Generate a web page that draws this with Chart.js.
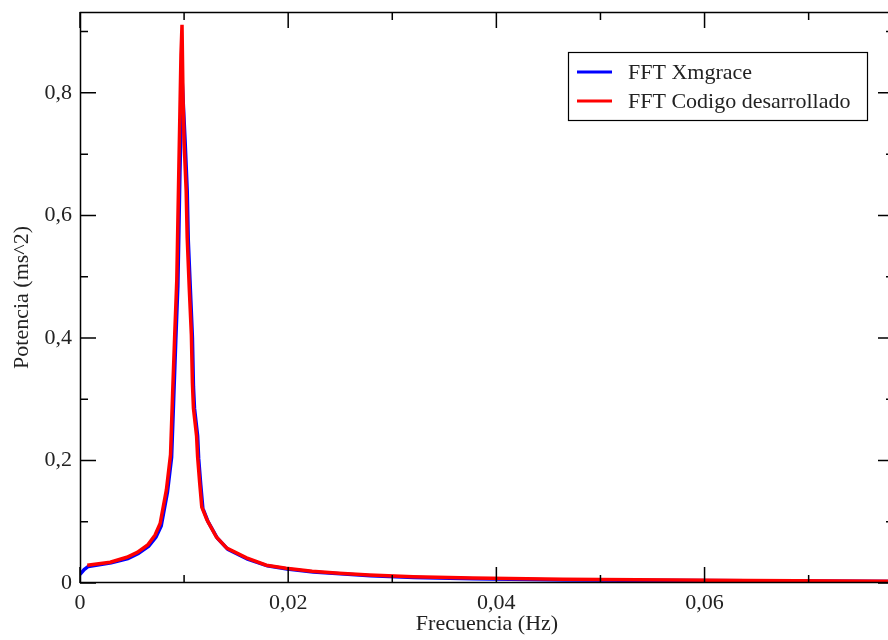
<!DOCTYPE html>
<html>
<head>
<meta charset="utf-8">
<script src="https://cdn.jsdelivr.net/npm/chart.js@4.4.1/dist/chart.umd.min.js"></script>
<style>
  html, body { margin: 0; padding: 0; overflow: hidden; background: #fff; }
  #wrap { width: 896px; height: 640px; }
</style>
</head>
<body>
<div id="wrap"><canvas id="fftChart" width="896" height="640"></canvas></div>
<script>
// frequency (Hz) / power (ms^2)
const redFreq = [0.0007, 0.0029, 0.0045, 0.0055, 0.0065, 0.0072, 0.0077, 0.0083, 0.0087, 0.0089,
    0.0091, 0.0093, 0.0094, 0.0095, 0.0096, 0.0097, 0.0098, 0.0099, 0.0100, 0.0102,
    0.0103, 0.0105, 0.0107, 0.0108, 0.0109, 0.0112, 0.0113, 0.0115, 0.0117, 0.0122,
    0.0131, 0.0141, 0.0160, 0.0179, 0.0198, 0.0223, 0.0249, 0.0278, 0.0320, 0.0377,
    0.0464, 0.0641, 0.0782];
const redPower = [0.029, 0.034, 0.042, 0.050, 0.062, 0.078, 0.097, 0.152, 0.21, 0.31,
    0.405, 0.495, 0.587, 0.68, 0.77, 0.862, 0.911, 0.79, 0.72, 0.64,
    0.563, 0.48, 0.405, 0.326, 0.285, 0.24, 0.206, 0.163, 0.124, 0.103,
    0.075, 0.057, 0.041, 0.029, 0.024, 0.019, 0.016, 0.013, 0.010, 0.008,
    0.006, 0.004, 0.003];

const blueFreq = [0.0000, 0.0004, 0.0008, 0.0030, 0.0046, 0.0056, 0.0066, 0.0073, 0.0078, 0.0084,
    0.0088, 0.0090, 0.0092, 0.0094, 0.0095, 0.0096, 0.0097, 0.0098, 0.0099, 0.0101,
    0.0103, 0.0104, 0.0106, 0.0108, 0.0109, 0.0110, 0.0113, 0.0114, 0.0116, 0.0118,
    0.0123, 0.0132, 0.0142, 0.0161, 0.0180, 0.0199, 0.0224, 0.0250, 0.0279, 0.0321,
    0.0378, 0.0465, 0.0642, 0.0782];
const bluePower = [0.014, 0.022, 0.027, 0.033, 0.040, 0.048, 0.060, 0.075, 0.093, 0.148,
    0.205, 0.30, 0.395, 0.485, 0.575, 0.67, 0.74, 0.78, 0.79, 0.72,
    0.64, 0.56, 0.48, 0.40, 0.32, 0.285, 0.24, 0.203, 0.16, 0.122,
    0.100, 0.073, 0.055, 0.039, 0.028, 0.023, 0.018, 0.015, 0.012, 0.009,
    0.007, 0.005, 0.0035, 0.0025];

const xTicks = [0, 0.02, 0.04, 0.06];
const xTickLabels = ['0', '0,02', '0,04', '0,06'];
const xMinor = [0.01, 0.03, 0.05, 0.07];
const yTicks = [0, 0.2, 0.4, 0.6, 0.8];
const yTickLabels = ['0', '0,2', '0,4', '0,6', '0,8'];
const yMinor = [0.1, 0.3, 0.5, 0.7, 0.9];

const FONT = 'Liberation Serif';
const INK = '#222';

const toPoints = (xs, ys) => xs.map((x, i) => ({ x: x, y: ys[i] }));

// box round the plot with inward ticks on all four sides
const framePlugin = {
    id: 'frame',
    afterDraw(chart) {
        const { ctx, chartArea: a, scales: { x, y } } = chart;
        ctx.save();
        ctx.strokeStyle = '#000';
        ctx.lineWidth = 1.5;
        ctx.strokeRect(a.left + 0.5, a.top + 0.5, a.right - a.left - 1, a.bottom - a.top - 1);
        ctx.beginPath();
        const tx = (v, len) => {
            const p = x.getPixelForValue(v);
            ctx.moveTo(p, a.bottom); ctx.lineTo(p, a.bottom - len);
            ctx.moveTo(p, a.top); ctx.lineTo(p, a.top + len);
        };
        const ty = (v, len) => {
            const p = y.getPixelForValue(v);
            ctx.moveTo(a.left, p); ctx.lineTo(a.left + len, p);
            ctx.moveTo(a.right, p); ctx.lineTo(a.right - len, p);
        };
        xTicks.forEach(v => tx(v, 16));
        xMinor.forEach(v => tx(v, 8));
        yTicks.forEach(v => ty(v, 16));
        yMinor.forEach(v => ty(v, 8));
        ctx.stroke();
        ctx.restore();
    }
};

// legend box in the upper right
const legendPlugin = {
    id: 'boxLegend',
    afterDraw(chart) {
        const { ctx } = chart;
        const left = 568, top = 52, w = 299, h = 68;
        ctx.save();
        ctx.fillStyle = '#fff';
        ctx.fillRect(left, top, w, h);
        ctx.strokeStyle = '#000';
        ctx.lineWidth = 1.2;
        ctx.strokeRect(left + 0.5, top + 0.5, w, h);
        ctx.font = '22px "' + FONT + '"';
        ctx.textBaseline = 'middle';
        chart.data.datasets.slice().reverse().forEach((ds, i) => {
            const cy = top + 20 + i * 29;
            ctx.strokeStyle = ds.borderColor;
            ctx.lineWidth = 3;
            ctx.beginPath();
            ctx.moveTo(left + 9, cy);
            ctx.lineTo(left + 44, cy);
            ctx.stroke();
            ctx.fillStyle = INK;
            ctx.fillText(ds.label, left + 60, cy + 1);
        });
        ctx.restore();
    }
};

const fftCtx = document.getElementById('fftChart').getContext('2d');
new Chart(fftCtx, {
    type: 'line',
    data: {
        datasets: [{
            label: 'FFT Codigo desarrollado',
            data: toPoints(redFreq, redPower),
            borderColor: '#ff0000',
            borderWidth: 3.5,
            pointRadius: 0,
            tension: 0,
            order: 0
        }, {
            label: 'FFT Xmgrace',
            data: toPoints(blueFreq, bluePower),
            borderColor: '#0000ff',
            borderWidth: 3.5,
            pointRadius: 0,
            tension: 0,
            order: 1
        }]
    },
    options: {
        responsive: false,
        animation: false,
        layout: { padding: { top: 12, right: 2, left: 0, bottom: 0 } },
        plugins: { legend: { display: false }, tooltip: { enabled: false } },
        scales: {
            x: {
                type: 'linear',
                min: 0,
                max: 0.0782,
                afterBuildTicks: s => { s.ticks = xTicks.map(v => ({ value: v })); },
                afterFit: s => { s.height = 57; s.paddingLeft = 0; s.paddingRight = 0; },
                grid: { display: false, drawTicks: false },
                border: { display: false },
                ticks: {
                    callback: (v, i) => xTickLabels[i],
                    color: INK,
                    font: { family: FONT, size: 22 },
                    padding: 7,
                    maxRotation: 0
                },
                title: {
                    display: true,
                    text: 'Frecuencia (Hz)',
                    color: INK,
                    font: { family: FONT, size: 22 },
                    padding: { top: 0, bottom: 3 }
                }
            },
            y: {
                type: 'linear',
                min: 0,
                max: 0.932,
                afterBuildTicks: s => { s.ticks = yTicks.map(v => ({ value: v })); },
                afterFit: s => { s.width = 80; s.paddingTop = 0; s.paddingBottom = 0; },
                grid: { display: false, drawTicks: false },
                border: { display: false },
                ticks: {
                    callback: (v, i) => yTickLabels[i],
                    color: INK,
                    font: { family: FONT, size: 22 },
                    padding: 8
                },
                title: {
                    display: true,
                    text: 'Potencia (ms^2)',
                    color: INK,
                    font: { family: FONT, size: 22 },
                    padding: { top: 9, bottom: 0 }
                }
            }
        }
    },
    plugins: [framePlugin, legendPlugin]
});
</script>
</body>
</html>
